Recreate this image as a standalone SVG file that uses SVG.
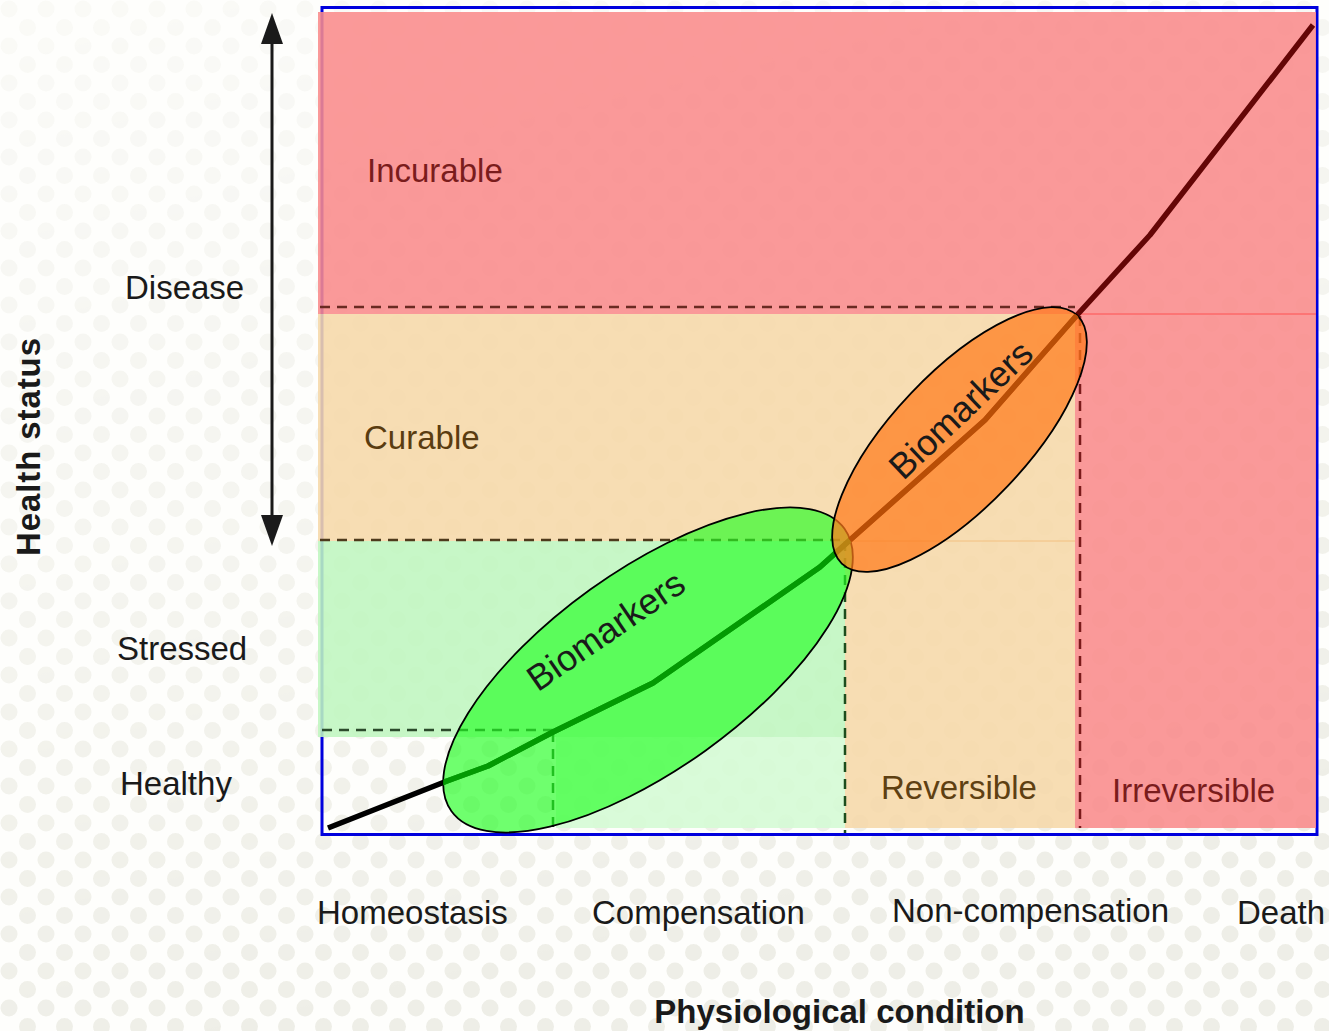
<svg xmlns="http://www.w3.org/2000/svg" width="1329" height="1031" viewBox="0 0 1329 1031">
<defs>
<pattern id="dots" width="37" height="37" patternUnits="userSpaceOnUse">
<circle cx="9" cy="9" r="8.5" fill="#ececE4"/>
<circle cx="27.5" cy="27.5" r="8.5" fill="#ececE4"/>
</pattern>
<linearGradient id="fade" x1="0" y1="0" x2="0.3" y2="1">
<stop offset="0" stop-color="#fff" stop-opacity="0.2"/>
<stop offset="0.6" stop-color="#fff" stop-opacity="0.6"/>
<stop offset="1" stop-color="#fff" stop-opacity="0.9"/>
</linearGradient>
<mask id="fadeMask"><rect width="1329" height="1031" fill="url(#fade)"/></mask>
<clipPath id="clipGreen"><ellipse cx="648" cy="670" rx="242" ry="99" transform="rotate(-35.7 648 670)"/></clipPath>
<clipPath id="clipOrange"><ellipse cx="959.5" cy="439.5" rx="171" ry="67" transform="rotate(-46.5 959.5 439.5)"/></clipPath>
</defs>
<style>
.lbl{font-family:"Liberation Sans",Arial,sans-serif;font-size:33px;fill:#1a1a1a}
.bold{font-weight:bold}
.dash{fill:none;stroke-width:2.5;stroke-dasharray:10 7}
.reg{opacity:0.88}
.ell{stroke:#000;stroke-width:1.8}
.curve{fill:none;stroke-width:5.5;stroke-linejoin:round}
.bio{font-size:36px}
</style>
<rect width="1329" height="1031" fill="#fefefc"/>
<rect width="1329" height="1031" fill="url(#dots)" mask="url(#fadeMask)"/>

<rect id="frame" x="322" y="7.5" width="995" height="827" fill="none" stroke="#0000dd" stroke-width="3"/>

<g id="regions">
<rect id="incurable-region" class="reg" x="318" y="12" width="998" height="302" fill="#f98b8b"/>
<rect id="curable-region" class="reg" x="318" y="314" width="757" height="227" fill="#f6d8a9"/>
<rect id="irreversible-region" class="reg" x="1075" y="314" width="241" height="514" fill="#f98b8b"/>
<rect id="reversible-region" class="reg" x="845" y="541" width="230" height="287" fill="#f6d8a9"/>
<rect id="stressed-region" class="reg" x="318" y="541" width="527" height="196" fill="#bff6bf"/>
<rect id="compensation-region" class="reg" x="556" y="737" width="289" height="91" fill="#d4fad4"/>
</g>

<g id="connectors">
<line x1="1075" y1="314" x2="1316" y2="314" stroke="#ff5050" stroke-width="1"/>
<line x1="845" y1="541" x2="1075" y2="541" stroke="#f3c080" stroke-width="1"/>
<line class="dash" x1="320" y1="307" x2="1075" y2="307" stroke="#6a2a22"/>
<line class="dash" x1="320" y1="540" x2="845" y2="540" stroke="#4e3a1c"/>
<line class="dash" x1="845" y1="541" x2="845" y2="833" stroke="#1d4d1d"/>
<line class="dash" x1="1080" y1="316" x2="1080" y2="828" stroke="#7a1a1a"/>
<line class="dash" x1="322" y1="730" x2="553" y2="730" stroke="#2b4a2b"/>
<line class="dash" x1="553" y1="732" x2="553" y2="828" stroke="#1d4d1d"/>
<polyline class="curve" points="328,828 447,781 488,766 553,732 653,683 820,567 850,540" stroke="#000"/>
<polyline class="curve" points="850,540 985,420 1078,314 1150,235 1313,25" stroke="#640606"/>
<g id="arrow">
<line x1="272" y1="40" x2="272" y2="518" stroke="#1a1a1a" stroke-width="3"/>
<polygon points="272,13 283,44 261,44" fill="#1a1a1a"/>
<polygon points="272,546 283,515 261,515" fill="#1a1a1a"/>
</g>
</g>

<g id="biomarkers-green">
<ellipse class="ell" cx="648" cy="670" rx="242" ry="99" transform="rotate(-35.7 648 670)" fill="rgba(34,255,34,0.65)"/>
<polyline class="curve" clip-path="url(#clipGreen)" points="328,828 447,781 488,766 553,732 653,683 820,567 850,540" stroke="#039a03"/>
<text class="lbl bio" text-anchor="middle" transform="translate(606,631) rotate(-34.5)" x="0" y="12">Biomarkers</text>
</g>
<g id="biomarkers-orange">
<ellipse class="ell" cx="959.5" cy="439.5" rx="171" ry="67" transform="rotate(-46.5 959.5 439.5)" fill="rgba(255,122,26,0.72)"/>
<polyline class="curve" clip-path="url(#clipOrange)" points="850,540 985,420 1078,314 1150,235" stroke="#b84e06"/>
<text class="lbl bio" text-anchor="middle" transform="translate(961,410) rotate(-43.5)" x="0" y="12">Biomarkers</text>
</g>

<g id="region-labels">
<text class="lbl" x="367" y="182" style="fill:#7a1c1c">Incurable</text>
<text class="lbl" x="364" y="449" style="fill:#5a3c10">Curable</text>
<text class="lbl" x="881" y="799" style="fill:#5e4012">Reversible</text>
<text class="lbl" x="1112" y="802" style="fill:#7a1c1c">Irreversible</text>
</g>

<g id="y-labels">
<text class="lbl" x="125" y="299">Disease</text>
<text class="lbl" x="117" y="660">Stressed</text>
<text class="lbl" x="120" y="795">Healthy</text>
<text class="lbl bold" text-anchor="middle" transform="translate(40,447) rotate(-90)" x="0" y="0" textLength="218" lengthAdjust="spacing">Health status</text>
</g>

<g id="x-labels">
<text class="lbl" x="317" y="924">Homeostasis</text>
<text class="lbl" x="592" y="924">Compensation</text>
<text class="lbl" x="892" y="922">Non-compensation</text>
<text class="lbl" x="1237" y="924">Death</text>
<text class="lbl bold" x="839.5" y="1023" text-anchor="middle">Physiological condition</text>
</g>
</svg>
